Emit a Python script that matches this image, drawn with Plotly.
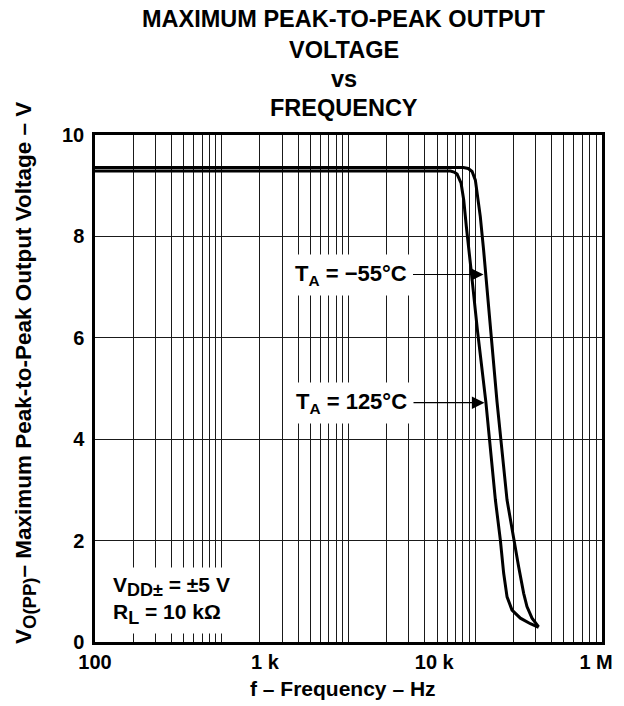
import numpy as np
import plotly.graph_objects as go

# Maximum peak-to-peak output voltage vs frequency (VDD± = ±5 V, RL = 10 kΩ)
freq_m55 = [100, 80500, 88000, 94400, 100200, 103300, 109600, 116400, 120200, 131500,
            148600, 178200, 200900, 219800, 241000, 255900, 280500, 316200]
vpp_m55 = [9.36, 9.36, 9.34, 9.28, 9.11, 8.85, 8.39, 7.73, 7.34, 6.15,
           4.73, 2.80, 2.01, 1.49, 0.96, 0.70, 0.47, 0.30]

freq_125 = [100, 63700, 68000, 71900, 77300, 81100, 85100, 88700, 92700, 104000,
            121300, 144200, 157800, 167500, 178200, 195000, 227000, 272300, 316200]
vpp_125 = [9.29, 9.29, 9.27, 9.23, 9.05, 8.72, 8.19, 7.73, 7.34, 6.15,
           4.73, 2.80, 2.01, 1.36, 0.89, 0.63, 0.47, 0.36, 0.29]

x_tick_pos = [100, 2190, 47500, 898000]
x_tick_text = ["100", "1 k", "10 k", "1 M"]
y_tick_vals = [0, 2, 4, 6, 8, 10]

FONT = "Liberation Sans, Arial, Helvetica, sans-serif"
W, H = 624, 706
ML, MR, MT, MB = 95, 22, 135, 64
PH = H - MT - MB
PW = W - ML - MR


def py(p):
    """pixel row -> paper y"""
    return (H - MB - p) / PH


def px(p):
    """pixel column -> paper x"""
    return (p - ML) / PW


def big_sub(s, size):
    return f'<sub><span style="font-size:{size}px">{s}</span></sub>'


grid_vals = [m * 10 ** e for e in range(2, 6) for m in range(1, 10)] + [1e6]

fig = go.Figure()
for f, v in ((freq_m55, vpp_m55), (freq_125, vpp_125)):
    fig.add_trace(go.Scatter(
        x=f, y=v, mode="lines",
        line=dict(color="black", width=3, shape="linear"),
        showlegend=False, hoverinfo="skip",
    ))

fig.update_layout(
    width=W, height=H,
    margin=dict(l=ML, r=MR, t=MT, b=MB),
    paper_bgcolor="white", plot_bgcolor="white",
    font=dict(family=FONT, color="black", size=20, weight="bold"),
    xaxis=dict(
        type="log", range=[2, 6],
        tickmode="array", tickvals=x_tick_pos, ticktext=x_tick_text,
        ticks="", showgrid=False, zeroline=False,
        tickfont=dict(size=20, weight="bold"),
        ticklabelstandoff=0,
        showline=True, mirror=True, linecolor="black", linewidth=2.5,
        minor=dict(tickmode="array", tickvals=grid_vals, showgrid=True,
                   gridcolor="#1a1a1a", gridwidth=1, ticks=""),
    ),
    yaxis=dict(
        range=[0, 10], tickmode="array", tickvals=y_tick_vals,
        ticks="", showgrid=True, gridcolor="#1a1a1a", gridwidth=1,
        zeroline=False, tickfont=dict(size=20, weight="bold"),
        ticklabelstandoff=4,
        showline=True, mirror=True, linecolor="black", linewidth=2.5,
    ),
)

title_lines = [("MAXIMUM PEAK-TO-PEAK OUTPUT", 19), ("VOLTAGE", 50),
               ("vs", 79), ("FREQUENCY", 107.5)]
for txt, yy in title_lines:
    fig.add_annotation(text=txt, xref="paper", yref="paper", x=px(344), y=py(yy),
                       xanchor="center", yanchor="middle", showarrow=False,
                       font=dict(size=23.5, family=FONT, weight="bold"))

# axis titles
fig.add_annotation(text="f \u2013 Frequency \u2013 Hz", xref="paper", yref="paper",
                   x=px(343), y=py(688), xanchor="center", yanchor="middle",
                   showarrow=False, font=dict(size=21, family=FONT, weight="bold"))
fig.add_annotation(text="V" + big_sub("O(PP)", 18.5) +
                   "\u2013 Maximum Peak-to-Peak Output Voltage \u2013 V",
                   xref="paper", yref="paper", x=px(25), y=py(373),
                   xanchor="center", yanchor="middle", textangle=-90,
                   showarrow=False, font=dict(size=22.5, family=FONT, weight="bold"))

# temperature callouts
for label, tip_x, tip_y in (("T<sub>A</sub> = \u221255\u00b0C", 483.5, 274.5),
                            ("T<sub>A</sub> = 125\u00b0C", 484.5, 402.7)):
    lx = 2 + (tip_x - ML) / (PW / 4)
    ly = 10 * (H - MB - tip_y) / PH
    fig.add_annotation(text=label, x=lx, y=ly, xref="x", yref="y",
                       ax=-133, ay=0, showarrow=True, arrowhead=2,
                       arrowsize=2.1, arrowwidth=1.2, arrowcolor="black",
                       standoff=0, bgcolor="white", borderpad=6,
                       font=dict(size=22, family=FONT, weight="bold"))

# test conditions
fig.add_annotation(text="V" + big_sub("DD\u00b1", 18) + " = \u00b15 V<br>R" +
                   big_sub("L", 18) + " = 10 k\u03a9",
                   xref="paper", yref="paper", x=px(107), y=py(600),
                   xanchor="left", yanchor="middle", align="left",
                   showarrow=False, bgcolor="white", borderpad=5,
                   font=dict(size=21, family=FONT, weight="bold"))

fig.write_html("out.html")
